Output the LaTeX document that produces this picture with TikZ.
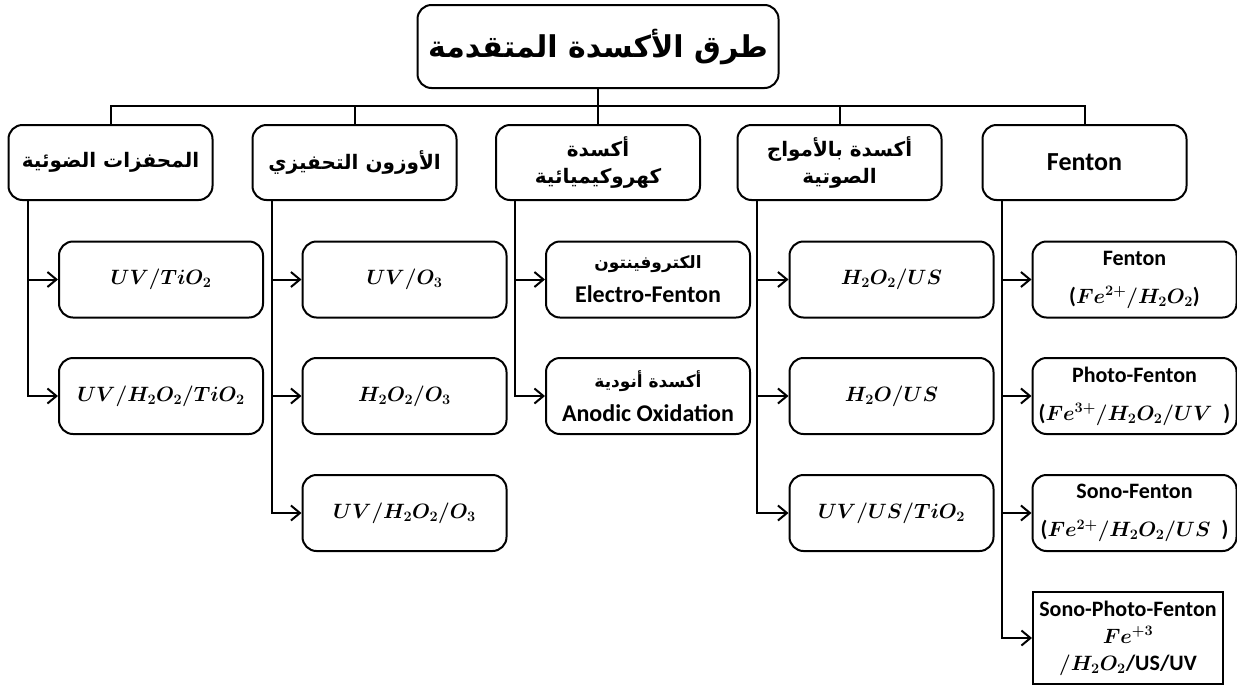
\documentclass[tikz,border=0pt]{standalone}
\usepackage{fontspec}
\usepackage{amsmath}
\usetikzlibrary{arrows.meta}
\TeXXeTstate=1
\newfontfamily\arabicfont[Script=Arabic,BoldFont={DejaVu Sans Bold}]{DejaVu Sans}
\newfontfamily\calfont{Carlito}
\newcommand{\ar}[1]{\beginR #1\endR}
\newcommand{\fm}[1]{{\fontsize{19.5}{24}\selectfont$#1$}}
\tikzset{
  box/.style={draw, line width=2pt, rounded corners=14pt, minimum width=204pt,
    minimum height=76pt, align=center, inner sep=1pt},
  topbox/.style={box, minimum height=75pt},
  sqbox/.style={draw, line width=2pt, minimum width=190pt, minimum height=92pt,
    align=center, inner sep=1pt},
  arr/.style={line width=2pt, -{Straight Barb[length=9pt,width=15pt,line width=2pt]}},
  ln/.style={line width=2pt},
  arabT/.style={font=\arabicfont\bfseries\fontsize{30}{36}\selectfont},
  arabH/.style={font=\arabicfont\bfseries\fontsize{20}{27}\selectfont},
  calH/.style={font=\calfont\bfseries\fontsize{26}{30}\selectfont},
  mth/.style={font=\fontsize{22}{26}\selectfont\boldmath},
  fen/.style={font=\calfont\bfseries\fontsize{22}{28}\selectfont\boldmath},
  ele/.style={font=\calfont\bfseries\fontsize{24}{28}\selectfont},
}
\begin{document}
\begin{tikzpicture}[x=1pt,y=-1pt]
\useasboundingbox (0,0) rectangle (1237,686);
% title
\node[box, arabT, minimum width=361pt, minimum height=83pt] (title) at (598,46.5) {\ar{طرق الأكسدة المتقدمة}};
% level 1
\node[topbox, arabH] (A) at (110.5,162.5) {\ar{المحفزات الضوئية}};
\node[topbox, arabH] (B) at (354.5,162.5) {\ar{الأوزون التحفيزي}};
\node[topbox, arabH] (C) at (598,162.5) {\ar{أكسدة}\\\ar{كهروكيميائية}};
\node[topbox, arabH] (D) at (839.5,162.5) {\ar{أكسدة بالأمواج}\\\ar{الصوتية}};
\node[topbox, calH] (E) at (1084.5,162.5) {Fenton};
% bus
\coordinate (bus) at (598,106);
\draw[ln] (title.south) -- (C.north);
\draw[ln] (A.north) |- (bus) -| (E.north);
\draw[ln] (B.north) -- (B.north |- bus);
\draw[ln] (D.north) -- (D.north |- bus);
% column A
\node[box, mth] (a1) at (161,279.5) {$UV/TiO_2$};
\node[box, mth] (a2) at (161,396) {$UV/H_2O_2/TiO_2$};
% column B
\node[box, mth] (b1) at (404.5,279.5) {$UV/O_3$};
\node[box, mth] (b2) at (404.5,396) {$H_2O_2/O_3$};
\node[box, mth] (b3) at (404.5,513) {$UV/H_2O_2/O_3$};
% column C
\node[box, ele] (c1) at (648,279.5) {{\arabicfont\bfseries\fontsize{17}{22}\selectfont\ar{الكتروفينتون}}\\[6pt]Electro-Fenton};
\node[box, ele] (c2) at (648,396) {{\arabicfont\bfseries\fontsize{17}{22}\selectfont\ar{أكسدة أنودية}}\\[6pt]Anodic Oxidation};
% column D
\node[box, mth] (d1) at (891.5,279.5) {$H_2O_2/US$};
\node[box, mth] (d2) at (891.5,396) {$H_2O/US$};
\node[box, mth] (d3) at (891.5,513) {$UV/US/TiO_2$};
% column E
\node[box, fen] (e1) at (1134.5,279.5) {Fenton\\[10pt](\fm{Fe^{2+}/H_2O_2})};
\node[box, fen] (e2) at (1134.5,396) {Photo-Fenton\\[10pt](\fm{Fe^{3+}/H_2O_2/UV}\enspace)};
\node[box, fen] (e3) at (1134.5,513) {Sono-Fenton\\[10pt](\fm{Fe^{2+}/H_2O_2/US}\enspace)};
\node[sqbox, fen, font=\calfont\bfseries\fontsize{22}{27}\selectfont\boldmath] (e4) at (1128,638) {Sono-Photo-Fenton\\\fm{Fe^{+3}}\\\fm{/H_2O_2}/US/UV};
% connectors
\foreach \p/\c in {A/a1,A/a2,B/b1,B/b2,B/b3,C/c1,C/c2,D/d1,D/d2,D/d3,E/e1,E/e2,E/e3,E/e4}{
  \draw[arr] ([xshift=20pt]\p.south west) |- (\c.west);
}
\end{tikzpicture}
\end{document}
